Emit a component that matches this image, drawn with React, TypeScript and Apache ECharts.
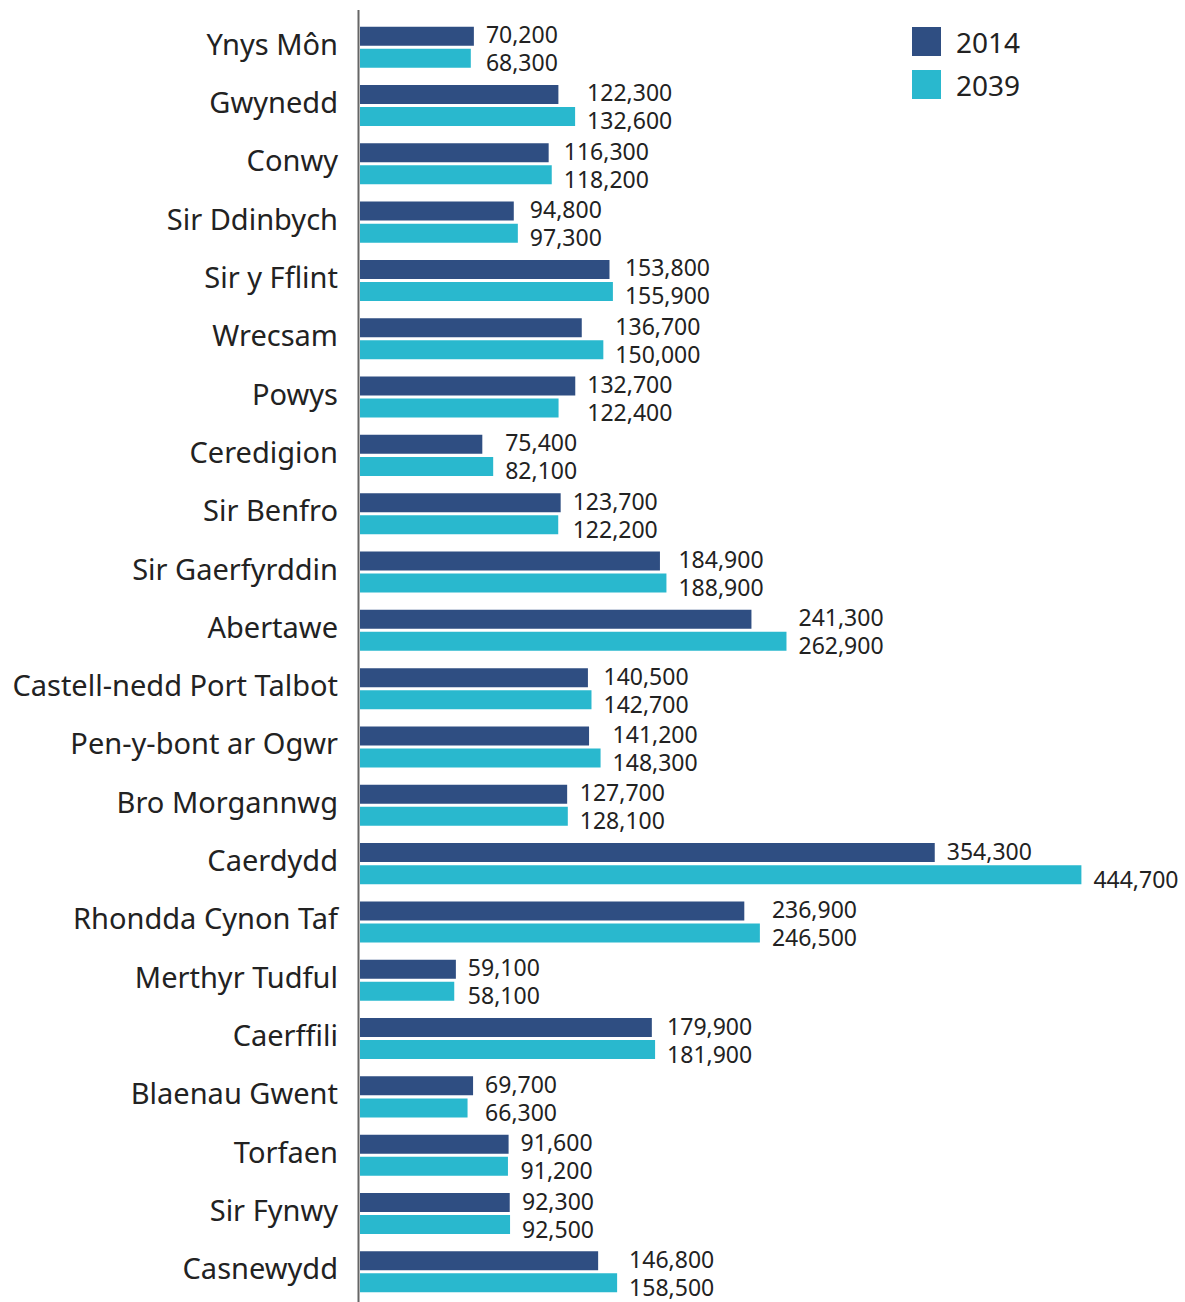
import React, { useEffect, useRef } from "react";
import * as echarts from "echarts";

const categories = [
  "Ynys Môn", "Gwynedd", "Conwy", "Sir Ddinbych", "Sir y Fflint", "Wrecsam",
  "Powys", "Ceredigion", "Sir Benfro", "Sir Gaerfyrddin", "Abertawe",
  "Castell-nedd Port Talbot", "Pen-y-bont ar Ogwr", "Bro Morgannwg", "Caerdydd",
  "Rhondda Cynon Taf", "Merthyr Tudful", "Caerffili", "Blaenau Gwent", "Torfaen",
  "Sir Fynwy", "Casnewydd",
];
const values2014 = [
  70200, 122300, 116300, 94800, 153800, 136700, 132700, 75400, 123700, 184900, 241300,
  140500, 141200, 127700, 354300, 236900, 59100, 179900, 69700, 91600, 92300, 146800,
];
const values2039 = [
  68300, 132600, 118200, 97300, 155900, 150000, 122400, 82100, 122200, 188900, 262900,
  142700, 148300, 128100, 444700, 246500, 58100, 181900, 66300, 91200, 92500, 158500,
];
const seriesNames = ["2014", "2039"];

const COLORS = ["#2f4e82", "#29b8ce"];
const FONT = "'Noto Sans', sans-serif";
const X_MAX = 450000;
const GRID_LEFT = 360;
const GRID_WIDTH = 730;

export default function App() {
  const ref = useRef<HTMLDivElement>(null);
  useEffect(() => {
    document.body.style.margin = "0";
    const chart = echarts.init(ref.current!, null, { renderer: "svg" });
    const scale = GRID_WIDTH / X_MAX;
    const fmt = (v: number) => v.toLocaleString("en-US");
    const buildData = (own: number[], other: number[], dy: number) =>
      own.map((v, i) => {
        let extra = Math.max(0, other[i] - v) * scale;
        if (extra > 80) extra = 0;
        return { value: v, label: { offset: [extra, dy] } };
      });
    const labelStyle = {
      show: true,
      position: "right",
      distance: 12,
      fontFamily: FONT,
      fontSize: 23,
      lineHeight: 24,
      color: "#222",
      formatter: (p: any) => fmt(p.value),
    };
    chart.setOption({
      animation: false,
      textStyle: { fontFamily: FONT },
      grid: { left: GRID_LEFT, top: 18, width: GRID_WIDTH, bottom: 1 },
      legend: {
        orient: "vertical",
        left: 912,
        top: 27,
        padding: 0,
        itemWidth: 29,
        itemHeight: 29,
        itemGap: 14,
        icon: "rect",
        textStyle: { fontFamily: FONT, fontSize: 28, color: "#222", padding: [0, 0, 0, 10] },
        data: seriesNames,
      },
      xAxis: {
        type: "value",
        min: 0,
        max: X_MAX,
        show: false,
      },
      yAxis: {
        type: "category",
        inverse: true,
        data: categories,
        axisLine: { show: false },
        axisTick: { show: false },
        axisLabel: {
          fontFamily: FONT,
          fontSize: 29,
          color: "#222",
          margin: 22,
          verticalAlign: "bottom",
          lineHeight: 8,
        },
      },
      graphic: [
        {
          type: "line",
          shape: { x1: 358.5, y1: 10, x2: 358.5, y2: 1302 },
          style: { stroke: "#666", lineWidth: 2 },
        },
      ],
      series: [
        {
          name: seriesNames[0],
          type: "bar",
          barWidth: 19,
          barGap: "16%",
          itemStyle: { color: COLORS[0] },
          label: labelStyle,
          data: buildData(values2014, values2039, -2),
        },
        {
          name: seriesNames[1],
          type: "bar",
          barWidth: 19,
          barGap: "16%",
          itemStyle: { color: COLORS[1] },
          label: labelStyle,
          data: buildData(values2039, values2014, 4),
        },
      ],
    });
    return () => chart.dispose();
  }, []);
  return <div ref={ref} style={{ width: 1185, height: 1302 }} />;
}
